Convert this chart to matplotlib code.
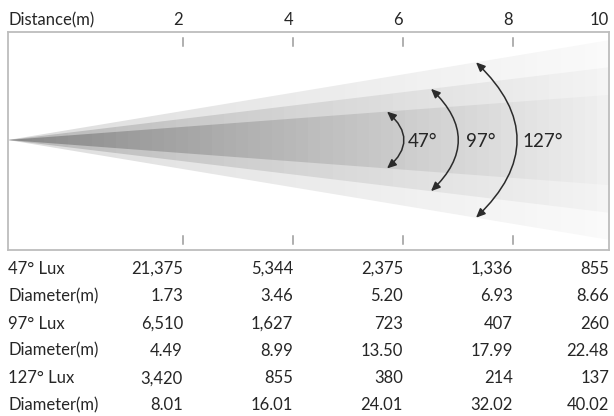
import matplotlib
matplotlib.use("Agg")
import matplotlib.pyplot as plt
import numpy as np
from matplotlib.patches import Polygon, FancyArrowPatch
from matplotlib.transforms import blended_transform_factory

plt.rcParams['font.family'] = ['Lato', 'DejaVu Sans']

# ---- data ----
distances = [2, 4, 6, 8, 10]
tick_labels = ['2', '4', '6', '8', '10']
beam_labels = ['47°', '97°', '127°']
row_labels = ['47° Lux', 'Diameter(m)', '97° Lux', 'Diameter(m)', '127° Lux', 'Diameter(m)']
lux_47 = ['21,375', '5,344', '2,375', '1,336', '855']
diam_47 = ['1.73', '3.46', '5.20', '6.93', '8.66']
lux_97 = ['6,510', '1,627', '723', '407', '260']
diam_97 = ['4.49', '8.99', '13.50', '17.99', '22.48']
lux_127 = ['3,420', '855', '380', '214', '137']
diam_127 = ['8.01', '16.01', '24.01', '32.02', '40.02']
table_rows = [lux_47, diam_47, lux_97, diam_97, lux_127, diam_127]

# ---- style ----
W, H = 614, 416
TXT = '#262626'
x_left, x_right = -1.1818, 9.745
y_bot, y_top = -2.0, 1.9636
cone_slopes = [0.166, 0.121, 0.075]          # outer -> inner (drawn spread)
cone_colors = [(221, 250), (184, 244), (136, 240)]
arc_x = [5.709, 6.509, 7.327]                # inner -> outer
arc_rad = [0.57, 0.52, 0.52]
label_x = [6.09, 7.14, 8.18]
FS = 12

fig = plt.figure(figsize=(W / 100, H / 100), dpi=100)
ax = fig.add_axes([8 / W, (H - 250) / H, 601 / W, 218 / H])
ax.set_xlim(x_left, x_right)
ax.set_ylim(y_bot, y_top)
ax.set_xticks([])
ax.set_yticks([])
for s in ax.spines.values():
    s.set_color('#bdbdbd')
    s.set_linewidth(1.3)

# beam cones with banded gradient
nb = 50
for slope, (c0, c1) in zip(cone_slopes, cone_colors):
    vals = np.linspace(c0, c1, nb) / 255.0
    img = np.repeat(vals[None, :, None], 3, axis=2)
    half = slope * (x_right - x_left)
    poly = Polygon([(x_left, 0), (x_right, half), (x_right, -half)],
                   closed=True, facecolor='none', edgecolor='none')
    ax.add_patch(poly)
    im = ax.imshow(img, extent=[x_left, x_right, -half, half], aspect='auto',
                   interpolation='nearest', zorder=1)
    im.set_clip_path(poly)
ax.set_xlim(x_left, x_right)
ax.set_ylim(y_bot, y_top)

# tick marks
for d in distances[:-1]:
    ax.plot([d, d], [1.70, 1.855], color='#9a9a9a', lw=1.1, zorder=3)
    ax.plot([d, d], [-1.75, -1.90], color='#9a9a9a', lw=1.1, zorder=3)

# arcs with arrows
for xa, slope, rad, lx, lab in zip(arc_x, cone_slopes[::-1], arc_rad, label_x, beam_labels):
    h = slope * (xa - x_left)
    arr = FancyArrowPatch((xa, -h), (xa, h), connectionstyle=f'arc3,rad={rad}',
                          arrowstyle='<|-|>,head_length=0.45,head_width=0.2',
                          mutation_scale=12, color='#2b2b2b', lw=1.1, zorder=4,
                          shrinkA=0, shrinkB=0)
    ax.add_patch(arr)
    ax.text(lx, -0.127, lab, ha='left', va='baseline', fontsize=13.5, color=TXT, zorder=5)

# header labels
tr = blended_transform_factory(ax.transData, fig.transFigure)
fig.text(8 / W, 1 - 25 / H, 'Distance(m)', ha='left', va='baseline', fontsize=FS, color=TXT)
for d, lab in zip(distances, tick_labels):
    xp = min(d, x_right)
    fig.text(xp, 1 - 25 / H, lab, ha='right', va='baseline', fontsize=FS, color=TXT,
             transform=tr)

# table
base = 274.0
step = 27.3
for i, (rl, vals) in enumerate(zip(row_labels, table_rows)):
    yb = 1 - (base + i * step) / H
    fig.text(8 / W, yb, rl, ha='left', va='baseline', fontsize=FS, color=TXT)
    for d, v in zip(distances, vals):
        xp = min(d, x_right)
        fig.text(xp, yb, v, ha='right', va='baseline', fontsize=FS, color=TXT, transform=tr)

fig.savefig('out.png', dpi=100)
